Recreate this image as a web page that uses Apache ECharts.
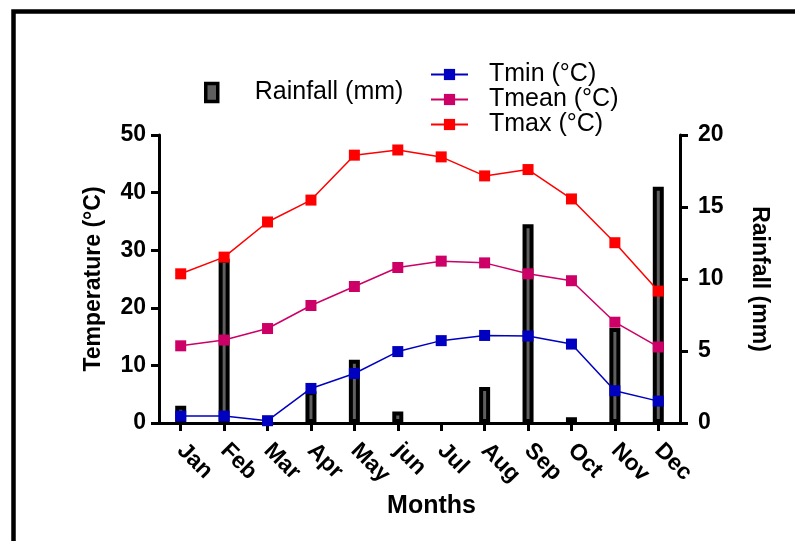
<!DOCTYPE html>
<html>
<head>
<meta charset="utf-8">
<script src="https://cdn.jsdelivr.net/npm/echarts@6/dist/echarts.min.js"></script>
<style>
html,body{margin:0;padding:0;background:#fff;}
#chart{width:795px;height:541px;}
</style>
</head>
<body>
<div id="chart"></div>
<script>
const months = ['Jan','Feb','Mar','Apr','May','jun','Jul','Aug','Sep','Oct','Nov','Dec'];
const rainfall = [1.2, 11.4, 0, 2.2, 4.4, 0.8, 0, 2.5, 13.8, 0.4, 6.6, 16.4];
const tmin = [1.2, 1.2, 0.4, 6.0, 8.6, 12.4, 14.3, 15.2, 15.1, 13.7, 5.6, 3.8];
const tmean = [13.4, 14.4, 16.4, 20.4, 23.7, 27.0, 28.1, 27.8, 25.9, 24.7, 17.5, 13.2];
const tmax = [25.9, 28.8, 34.9, 38.7, 46.5, 47.4, 46.2, 42.9, 44.0, 38.9, 31.3, 22.9];
const tempTicks = {min: 0, max: 50, interval: 10};
const rainTicks = {min: 0, max: 20, interval: 5};

const FONT = '"Liberation Sans", Arial, Helvetica, sans-serif';
const chart = echarts.init(document.getElementById('chart'), null, {renderer: 'canvas'});

const axisLine = {show: true, lineStyle: {color: '#000', width: 3}};
const axisTick = {show: true, length: 8, lineStyle: {color: '#000', width: 3}};

chart.setOption({
  backgroundColor: '#fff',
  animation: false,
  textStyle: {fontFamily: FONT},
  graphic: [{
    type: 'rect',
    shape: {x: 13.5, y: 11.5, width: 900, height: 700},
    style: {fill: 'none', stroke: '#000', lineWidth: 4.5},
    silent: true, z: -10
  }],
  grid: {left: 159, right: 115, top: 135, bottom: 118, containLabel: false},
  legend: [{
    data: [{name: 'Rainfall (mm)', icon: 'rect'}],
    orient: 'vertical',
    left: 204, top: 80, padding: 0,
    itemWidth: 12, itemHeight: 18,
    itemStyle: {color: '#5f5f5f', borderColor: '#000', borderWidth: 3.5},
    textStyle: {fontFamily: FONT, fontSize: 25, color: '#000', lineHeight: 24, padding: [0, 0, 0, 32]}
  }, {
    data: ['Tmin (°C)', 'Tmean (°C)', 'Tmax (°C)'],
    orient: 'vertical',
    left: 430, top: 62, padding: 0, itemGap: 0,
    itemWidth: 37, itemHeight: 14,
    textStyle: {fontFamily: FONT, fontSize: 25, color: '#000', lineHeight: 24, padding: [0, 0, 0, 16]}
  }],
  xAxis: {
    type: 'category',
    data: months,
    boundaryGap: true,
    axisLine: axisLine,
    axisTick: Object.assign({alignWithLabel: true}, axisTick),
    axisLabel: {rotate: -45, margin: 24, fontSize: 23, fontWeight: 'bold', color: '#000', fontFamily: FONT, interval: 0},
    name: 'Months',
    nameLocation: 'middle',
    nameGap: 67,
    nameTextStyle: {fontSize: 25, fontWeight: 'bold', color: '#000', fontFamily: FONT, padding: [0, 0, 0, 24]},
    splitLine: {show: false}
  },
  yAxis: [{
    type: 'value',
    position: 'left',
    min: tempTicks.min, max: tempTicks.max, interval: tempTicks.interval,
    axisLine: axisLine,
    axisTick: axisTick,
    axisLabel: {margin: 13, fontSize: 23, fontWeight: 'bold', color: '#000', fontFamily: FONT},
    splitLine: {show: false},
    name: 'Temperature (°C)',
    nameLocation: 'middle',
    nameGap: 54,
    nameRotate: 90,
    nameTextStyle: {fontSize: 23, fontWeight: 'bold', color: '#000', fontFamily: FONT}
  }, {
    type: 'value',
    position: 'right',
    min: rainTicks.min, max: rainTicks.max, interval: rainTicks.interval,
    axisLine: axisLine,
    axisTick: axisTick,
    axisLabel: {margin: 18, fontSize: 23, fontWeight: 'bold', color: '#000', fontFamily: FONT},
    splitLine: {show: false},
    name: 'Rainfall (mm)',
    nameLocation: 'middle',
    nameGap: 68,
    nameRotate: -90,
    nameTextStyle: {fontSize: 23, fontWeight: 'bold', color: '#000', fontFamily: FONT}
  }],
  series: [{
    name: 'Rainfall (mm)',
    type: 'bar',
    yAxisIndex: 1,
    data: rainfall.map(v => (v === 0 ? '-' : v)),
    barWidth: 11,
    itemStyle: {color: '#5f5f5f', borderColor: '#000', borderWidth: 4}
  }, {
    name: 'Tmin (°C)',
    type: 'line',
    yAxisIndex: 0,
    data: tmin,
    symbol: 'rect', symbolSize: 11,
    lineStyle: {color: '#0000c0', width: 1.5},
    itemStyle: {color: '#0000c0'}
  }, {
    name: 'Tmean (°C)',
    type: 'line',
    yAxisIndex: 0,
    data: tmean,
    symbol: 'rect', symbolSize: 11,
    lineStyle: {color: '#cc0066', width: 1.5},
    itemStyle: {color: '#cc0066'}
  }, {
    name: 'Tmax (°C)',
    type: 'line',
    yAxisIndex: 0,
    data: tmax,
    symbol: 'rect', symbolSize: 11,
    lineStyle: {color: '#ff0000', width: 1.5},
    itemStyle: {color: '#ff0000'}
  }]
});
</script>
</body>
</html>
